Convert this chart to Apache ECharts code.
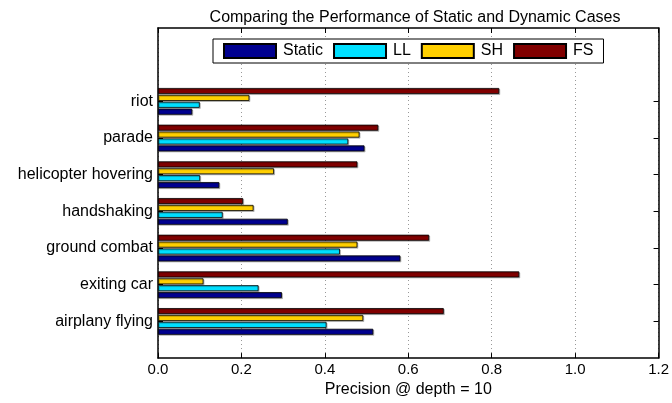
<!DOCTYPE html>
<html><head><meta charset="utf-8">
<script src="https://cdn.jsdelivr.net/npm/echarts@6/dist/echarts.min.js"></script>
<style>html,body{margin:0;padding:0;background:#fff}#c{width:672px;height:403px}</style>
</head><body><div id="c"></div>
<script>
const categories = ['airplany flying','exiting car','ground combat','handshaking','helicopter hovering','parade','riot'];
const staticVals = [0.516, 0.297, 0.581, 0.311, 0.147, 0.495, 0.082];
const llVals     = [0.404, 0.241, 0.436, 0.155, 0.101, 0.456, 0.100];
const shVals     = [0.492, 0.109, 0.478, 0.229, 0.278, 0.483, 0.219];
const fsVals     = [0.685, 0.866, 0.650, 0.204, 0.478, 0.528, 0.818];
const xTicks = [0, 0.2, 0.4, 0.6, 0.8, 1.0, 1.2];
const seriesNames = ['Static','LL','SH','FS'];
const seriesColors = ['#00008F','#00DFFF','#FFCF00','#800000'];

const yData = [''].concat(categories, ['', '']);
const pad = arr => [null].concat(arr, [null, null]);
const font = 'Liberation Sans, Arial, Helvetica, sans-serif';
const tickFn = (i) => i >= 1 && i <= categories.length;

const chart = echarts.init(document.getElementById('c'), null, {renderer: 'canvas'});
const allVals = [staticVals, llVals, shVals, fsVals];
// ECharts lays horizontal bar series out from the top down, so add them in reverse order
const order = [3, 2, 1, 0];
const lineStyle = {color: '#000', width: 1.5};
chart.setOption({
  animation: false,
  backgroundColor: '#fff',
  title: {
    text: 'Comparing the Performance of Static and Dynamic Cases',
    left: 410, top: 5, textAlign: 'center',
    textStyle: {fontFamily: font, fontSize: 16, fontWeight: 'normal', color: '#000'}
  },
  legend: {
    data: seriesNames.map(n => ({name: n, icon: 'rect'})),
    left: 213, top: 39,
    orient: 'horizontal',
    itemWidth: 52, itemHeight: 14, itemGap: 10,
    padding: [4, 10, 4, 10],
    borderColor: '#000', borderWidth: 1, backgroundColor: '#fff',
    textStyle: {fontFamily: font, fontSize: 16, color: '#000', padding: [0, 0, 0, 2]}
  },
  grid: {left: 158, top: 28, width: 504, height: 336},
  xAxis: [{
    type: 'value', min: 0, max: 1.2, interval: 0.2, position: 'bottom',
    name: 'Precision @ depth = 10', nameLocation: 'middle', nameGap: 19,
    nameTextStyle: {fontFamily: font, fontSize: 16, color: '#000'},
    axisLine: {show: true, onZero: false, lineStyle: lineStyle},
    axisTick: {show: true, inside: true, length: 5, lineStyle: {color: '#000'}},
    axisLabel: {fontFamily: font, fontSize: 15, color: '#000', margin: 4,
      formatter: v => v.toFixed(1)},
    splitLine: {show: true, lineStyle: {color: '#999', type: [1, 3], width: 1}}
  }, {
    type: 'value', min: 0, max: 1.2, interval: 0.2, position: 'top',
    axisLine: {show: true, onZero: false, lineStyle: lineStyle},
    axisTick: {show: true, inside: true, length: 5, lineStyle: {color: '#000'}},
    axisLabel: {show: false}, splitLine: {show: false}
  }],
  yAxis: [{
    type: 'category', data: yData, boundaryGap: false, position: 'left',
    axisLine: {show: true, onZero: false, lineStyle: lineStyle},
    axisTick: {show: true, inside: true, length: 5, interval: tickFn, lineStyle: {color: '#000'}},
    axisLabel: {fontFamily: font, fontSize: 16, color: '#000', margin: 5, interval: 0},
    splitLine: {show: false}
  }, {
    type: 'category', data: yData, boundaryGap: false, position: 'right',
    axisLine: {show: true, onZero: false, lineStyle: lineStyle},
    axisTick: {show: true, inside: true, length: 5, interval: tickFn, lineStyle: {color: '#000'}},
    axisLabel: {show: false}, splitLine: {show: false}
  }],
  series: order.map(i => ({
    name: seriesNames[i], type: 'bar', xAxisIndex: 0, yAxisIndex: 0,
    data: pad(allVals[i]),
    barWidth: 6, barGap: '15%', z: 2,
    itemStyle: {color: seriesColors[i], borderColor: '#000', borderWidth: 0.8,
      shadowColor: 'rgba(0,0,0,0.25)', shadowOffsetX: 1, shadowOffsetY: 1, shadowBlur: 0}
  }))
});
</script></body></html>
